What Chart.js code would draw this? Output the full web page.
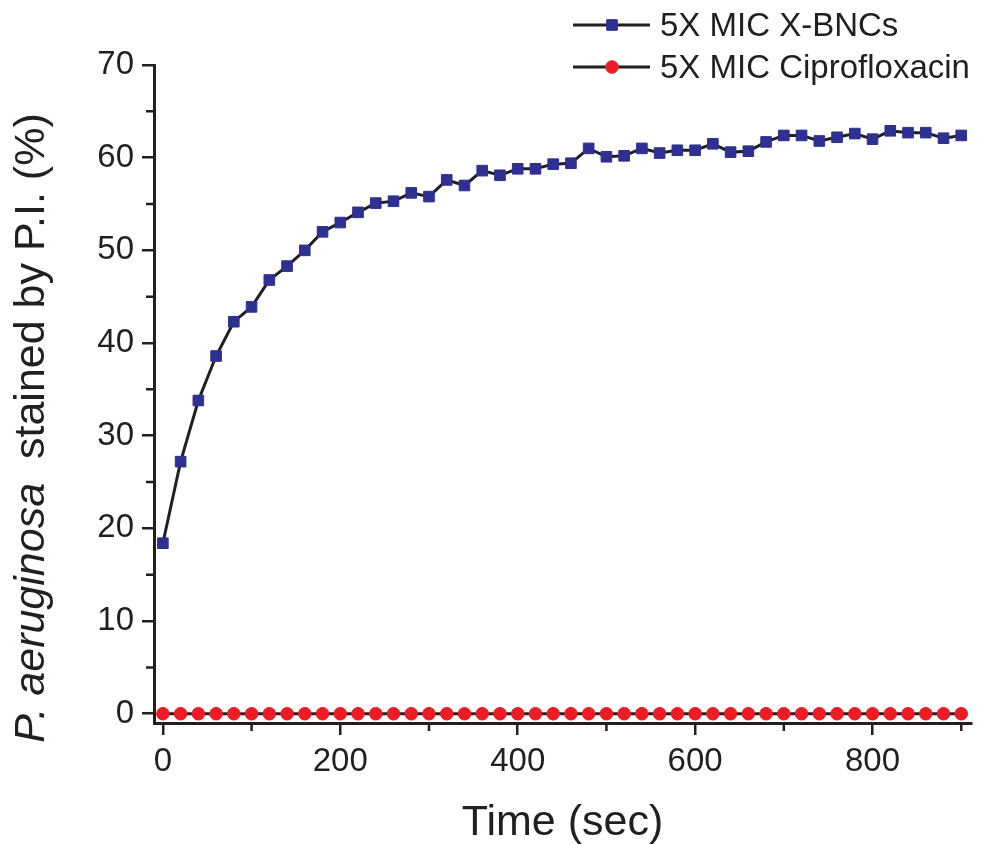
<!DOCTYPE html>
<html>
<head>
<meta charset="utf-8">
<script src="https://cdn.jsdelivr.net/npm/chart.js@4.4.1/dist/chart.umd.min.js"></script>
<style>
  html, body { margin: 0; padding: 0; background: #ffffff; }
  #wrap { width: 981px; height: 844px; position: relative; }
</style>
</head>
<body>
<div id="wrap"><canvas id="c" width="981" height="844"></canvas></div>
<script>
// ---- data ----
const timeSec = [0, 20, 40, 60, 80, 100, 120, 140, 160, 180,
                 200, 220, 240, 260, 280, 300, 320, 340, 360, 380,
                 400, 420, 440, 460, 480, 500, 520, 540, 560, 580,
                 600, 620, 640, 660, 680, 700, 720, 740, 760, 780,
                 800, 820, 840, 860, 880, 900];
const xbncValues = [18.4, 27.2, 33.8, 38.6, 42.3, 43.9, 46.8, 48.3, 50.0, 52.0,
                    53.0, 54.1, 55.1, 55.3, 56.2, 55.8, 57.6, 57.0, 58.6, 58.1,
                    58.8, 58.8, 59.3, 59.4, 61.0, 60.1, 60.2, 61.0, 60.5, 60.8,
                    60.8, 61.5, 60.6, 60.7, 61.7, 62.4, 62.4, 61.8, 62.2, 62.6,
                    62.0, 62.9, 62.7, 62.7, 62.1, 62.4];
const ciproValues = [0, 0, 0, 0, 0, 0, 0, 0, 0, 0,
                     0, 0, 0, 0, 0, 0, 0, 0, 0, 0,
                     0, 0, 0, 0, 0, 0, 0, 0, 0, 0,
                     0, 0, 0, 0, 0, 0, 0, 0, 0, 0,
                     0, 0, 0, 0, 0, 0];
const seriesNames = ['5X MIC X-BNCs', '5X MIC Ciprofloxacin'];
const xMajorTicks = [0, 200, 400, 600, 800];
const xMinorTicks = [100, 300, 500, 700, 900];
const yMajorTicks = [0, 10, 20, 30, 40, 50, 60, 70];
const yMinorTicks = [5, 15, 25, 35, 45, 55, 65];
const xTitle = 'Time (sec)';
const yTitleItalic = 'P. aeruginosa';
const yTitleRest = '  stained by P.I. (%)';

// ---- style ----
const FONT = '"Liberation Sans", Arial, Helvetica, sans-serif';
const INK = '#231f20';
const BLUE = '#2e3192';
const RED = '#ed1c24';

const toXY = (xs, ys) => xs.map((x, i) => ({ x: x, y: ys[i] }));

const extras = {
  id: 'extras',
  afterDraw(chart) {
    const ctx = chart.ctx;
    const xs = chart.scales.x, ys = chart.scales.y;
    const area = chart.chartArea;
    ctx.save();
    // minor ticks
    ctx.strokeStyle = INK;
    ctx.lineWidth = 2.5;
    ctx.beginPath();
    xMinorTicks.forEach(v => {
      const px = xs.getPixelForValue(v);
      ctx.moveTo(px, area.bottom);
      ctx.lineTo(px, area.bottom + 8);
    });
    yMinorTicks.forEach(v => {
      const py = ys.getPixelForValue(v);
      ctx.moveTo(area.left, py);
      ctx.lineTo(area.left - 8, py);
    });
    ctx.stroke();

    // x title
    ctx.fillStyle = INK;
    ctx.font = '43px ' + FONT;
    ctx.textAlign = 'center';
    ctx.textBaseline = 'alphabetic';
    ctx.fillText(xTitle, (area.left + area.right) / 2, 835);

    // y title (mixed italic)
    const fItal = 'italic 43px ' + FONT;
    const fNorm = '43px ' + FONT;
    ctx.font = fItal;
    const w1 = ctx.measureText(yTitleItalic).width;
    ctx.font = fNorm;
    const w2 = ctx.measureText(yTitleRest).width;
    const total = w1 + w2;
    ctx.translate(44, 428);
    ctx.rotate(-Math.PI / 2);
    ctx.textAlign = 'left';
    ctx.font = fItal;
    ctx.fillText(yTitleItalic, -total / 2, 0);
    ctx.font = fNorm;
    ctx.fillText(yTitleRest, -total / 2 + w1, 0);
    ctx.restore();

    // legend
    ctx.save();
    const rows = [
      { y: 25, name: seriesNames[0], color: BLUE, style: 'rect', r: 7.5 },
      { y: 67, name: seriesNames[1], color: RED, style: 'circle', r: 6.3 }
    ];
    rows.forEach(row => {
      ctx.strokeStyle = INK;
      ctx.lineWidth = 3;
      ctx.beginPath();
      ctx.moveTo(573, row.y);
      ctx.lineTo(650, row.y);
      ctx.stroke();
      ctx.fillStyle = row.color;
      ctx.strokeStyle = row.color;
      ctx.lineWidth = 1;
      Chart.helpers.drawPoint(ctx, { pointStyle: row.style, radius: row.r, rotation: 0, borderWidth: 1 }, 612, row.y);
      ctx.fillStyle = INK;
      ctx.font = '33px ' + FONT;
      ctx.textAlign = 'left';
      ctx.textBaseline = 'middle';
      ctx.fillText(row.name, 660, row.y + 2);
    });
    ctx.restore();
  }
};

new Chart(document.getElementById('c'), {
  type: 'line',
  data: {
    datasets: [
      {
        label: seriesNames[0],
        data: toXY(timeSec, xbncValues),
        borderColor: INK,
        borderWidth: 3,
        pointStyle: 'rect',
        pointRadius: 7.5,
        pointBackgroundColor: BLUE,
        pointBorderColor: BLUE,
        pointBorderWidth: 1,
        tension: 0,
        clip: false
      },
      {
        label: seriesNames[1],
        data: toXY(timeSec, ciproValues),
        borderColor: INK,
        borderWidth: 3,
        pointStyle: 'circle',
        pointRadius: 6.3,
        pointBackgroundColor: RED,
        pointBorderColor: RED,
        pointBorderWidth: 1,
        tension: 0,
        clip: false
      }
    ]
  },
  options: {
    responsive: false,
    animation: false,
    events: [],
    layout: { padding: { top: 65, right: 10, left: 0, bottom: 0 } },
    plugins: { legend: { display: false }, tooltip: { enabled: false } },
    scales: {
      x: {
        type: 'linear',
        min: -10,
        max: 911,
        afterBuildTicks: s => { s.ticks = xMajorTicks.map(v => ({ value: v })); },
        afterFit: s => { s.height = 121; },
        ticks: { color: INK, font: { family: FONT, size: 33 }, padding: 7, maxRotation: 0, autoSkip: false },
        grid: { display: true, drawOnChartArea: false, drawTicks: true, tickLength: 12, color: INK, lineWidth: 2.5 },
        border: { display: true, color: INK, width: 3 }
      },
      y: {
        type: 'linear',
        min: -1,
        max: 70,
        afterBuildTicks: s => { s.ticks = yMajorTicks.map(v => ({ value: v })); },
        afterFit: s => { s.width = 154; },
        ticks: { color: INK, font: { family: FONT, size: 33 }, padding: 8, autoSkip: false },
        grid: { display: true, drawOnChartArea: false, drawTicks: true, tickLength: 12, color: INK, lineWidth: 2.5 },
        border: { display: true, color: INK, width: 3 }
      }
    }
  },
  plugins: [extras]
});
</script>
</body>
</html>
